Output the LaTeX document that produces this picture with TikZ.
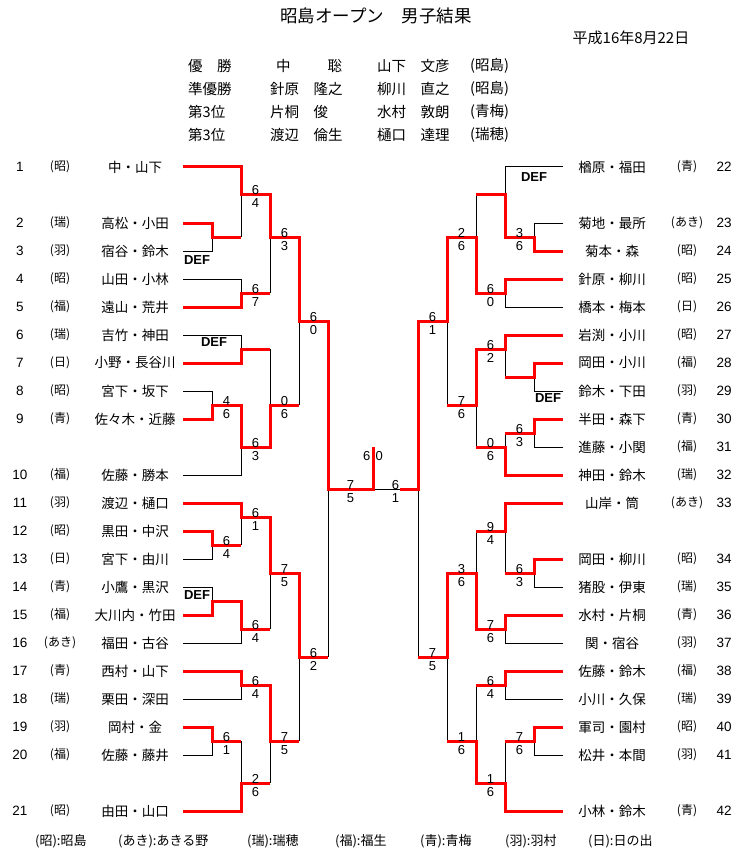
\documentclass[tikz,border=0pt]{standalone}
\usepackage{fontspec}
\setmainfont{Noto Sans CJK JP}
\newfontfamily\latinf{Liberation Sans}
\tikzset{
  blk/.style={black, line width=1pt},
  win/.style={red, line width=3pt, line join=miter},
  nametxt/.style={font=\fontsize{13.5}{13.5}\selectfont, inner sep=0pt},
  clubtxt/.style={font=\fontsize{12}{12}\selectfont, inner sep=0pt},
  numtxt/.style={font=\latinf\fontsize{13.5}{13.5}\selectfont, inner sep=0pt},
  sctop/.style={font=\latinf\fontsize{13}{13}\selectfont, inner sep=0pt, anchor=base},
  scbot/.style={font=\latinf\fontsize{13}{13}\selectfont, inner sep=0pt, anchor=north, yshift=-4.5pt},
  deftxt/.style={font=\latinf\bfseries\fontsize{13}{13}\selectfont, inner sep=0pt},
  tabtxt/.style={font=\fontsize{14.5}{14.5}\selectfont, inner sep=0pt, anchor=west},
  foottxt/.style={font=\fontsize{13}{13}\selectfont, inner sep=0pt, anchor=west},
}
\newcommand\Lpl[4]{%
  \node[numtxt] (lnum#1) at (20,#4) {#1};
  \node[clubtxt] (lclub#1) at (60,#4) {(#2)};
  \node[nametxt] (lname#1) at (135,#4) {#3};}
\newcommand\Rpl[4]{%
  \node[nametxt] (rname#1) at (612,#4) {#3};
  \node[clubtxt] (rclub#1) at (687,#4) {(#2)};
  \node[numtxt] (rnum#1) at (724,#4) {#1};}
\newcommand\Sc[5]{%
  \node[sctop] (#1t) at (#2,#3) {#4};
  \node[scbot] (#1b) at (#2,#3) {#5};}
\begin{document}
\begin{tikzpicture}[x=1pt,y=-1pt]
\fill[white] (0,0) rectangle (743,853);
\useasboundingbox (0,0) rectangle (743,853);

% header
\node[font=\fontsize{17.5}{17.5}\selectfont, inner sep=0pt] (title) at (376,16) {昭島オープン　男子結果};
\node[font=\fontsize{15}{15}\selectfont, inner sep=0pt] (date) at (631,38) {平成16年8月22日};

\node[tabtxt] (t11) at (188,66) {優　勝};
\node[tabtxt] (t12) at (276,66) {中　　\hspace{8pt}聡};
\node[tabtxt] (t13) at (377,66) {山下　文彦};
\node[tabtxt] (t14) at (470,66) {(昭島)};
\node[tabtxt] (t21) at (188,89) {準優勝};
\node[tabtxt] (t22) at (270,89) {針原　隆之};
\node[tabtxt] (t23) at (377,89) {柳川　直之};
\node[tabtxt] (t24) at (470,89) {(昭島)};
\node[tabtxt] (t31) at (188,112) {第3位};
\node[tabtxt] (t32) at (270,112) {片桐　俊};
\node[tabtxt] (t33) at (377,112) {水村　敦朗};
\node[tabtxt] (t34) at (470,112) {(青梅)};
\node[tabtxt] (t41) at (188,135) {第3位};
\node[tabtxt] (t42) at (270,135) {渡辺　倫生};
\node[tabtxt] (t43) at (377,135) {樋口　達理};
\node[tabtxt] (t44) at (470,135) {(瑞穂)};

% players left
\Lpl{1}{昭}{中・山下}{167}
\Lpl{2}{瑞}{高松・小田}{223}
\Lpl{3}{羽}{宿谷・鈴木}{251}
\Lpl{4}{昭}{山田・小林}{279}
\Lpl{5}{福}{遠山・荒井}{307}
\Lpl{6}{瑞}{吉竹・神田}{335}
\Lpl{7}{日}{小野・長谷川}{363}
\Lpl{8}{昭}{宮下・坂下}{391}
\Lpl{9}{青}{佐々木・近藤}{419}
\Lpl{10}{福}{佐藤・勝本}{475}
\Lpl{11}{羽}{渡辺・樋口}{503}
\Lpl{12}{昭}{黒田・中沢}{531}
\Lpl{13}{日}{宮下・由川}{559}
\Lpl{14}{青}{小鷹・黒沢}{587}
\Lpl{15}{福}{大川内・竹田}{615}
\Lpl{16}{あき}{福田・古谷}{643}
\Lpl{17}{青}{西村・山下}{671}
\Lpl{18}{瑞}{栗田・深田}{699}
\Lpl{19}{羽}{岡村・金}{727}
\Lpl{20}{福}{佐藤・藤井}{755}
\Lpl{21}{昭}{由田・山口}{811}

% players right
\Rpl{22}{青}{楢原・福田}{167}
\Rpl{23}{あき}{菊地・最所}{223}
\Rpl{24}{昭}{菊本・森}{251}
\Rpl{25}{昭}{針原・柳川}{279}
\Rpl{26}{日}{橋本・梅本}{307}
\Rpl{27}{昭}{岩渕・小川}{335}
\Rpl{28}{福}{岡田・小川}{363}
\Rpl{29}{羽}{鈴木・下田}{391}
\Rpl{30}{青}{半田・森下}{419}
\Rpl{31}{福}{進藤・小関}{447}
\Rpl{32}{瑞}{神田・鈴木}{475}
\Rpl{33}{あき}{山岸・筒}{503}
\Rpl{34}{昭}{岡田・柳川}{559}
\Rpl{35}{瑞}{猪股・伊東}{587}
\Rpl{36}{青}{水村・片桐}{615}
\Rpl{37}{羽}{関・宿谷}{643}
\Rpl{38}{福}{佐藤・鈴木}{671}
\Rpl{39}{瑞}{小川・久保}{699}
\Rpl{40}{昭}{軍司・園村}{727}
\Rpl{41}{羽}{松井・本間}{755}
\Rpl{42}{青}{小林・鈴木}{811}

% black (losing) lines, left
\draw[blk] (183,251)--(212,251)--(212,237);
\draw[blk] (241,194)--(241,237);
\draw[blk] (183,279)--(241,279)--(241,293);
\draw[blk] (270,237)--(270,293);
\draw[blk] (183,335)--(241,335)--(241,349);
\draw[blk] (183,391)--(212,391)--(212,405);
\draw[blk] (183,475)--(241,475)--(241,447);
\draw[blk] (270,349)--(270,405);
\draw[blk] (299,321)--(299,405);
\draw[blk] (241,517)--(241,545);
\draw[blk] (183,559)--(212,559)--(212,545);
\draw[blk] (183,587)--(212,587)--(212,601);
\draw[blk] (183,643)--(241,643)--(241,629);
\draw[blk] (270,573)--(270,629);
\draw[blk] (328,489)--(328,657);
\draw[blk] (183,699)--(241,699)--(241,685);
\draw[blk] (183,755)--(212,755)--(212,741);
\draw[blk] (241,741)--(241,783);
\draw[blk] (270,741)--(270,783);
\draw[blk] (299,657)--(299,741);
\draw[blk] (373,489)--(418,489);
% black lines, right
\draw[blk] (563,167)--(505,167)--(505,194);
\draw[blk] (563,223)--(534,223)--(534,237);
\draw[blk] (476,194)--(476,237);
\draw[blk] (563,307)--(505,307)--(505,293);
\draw[blk] (505,349)--(505,377);
\draw[blk] (563,391)--(534,391)--(534,377);
\draw[blk] (563,447)--(534,447)--(534,433);
\draw[blk] (505,433)--(505,447);
\draw[blk] (476,405)--(476,447);
\draw[blk] (447,321)--(447,405);
\draw[blk] (418,489)--(418,657);
\draw[blk] (505,531)--(505,573);
\draw[blk] (563,587)--(534,587)--(534,573);
\draw[blk] (563,643)--(505,643)--(505,629);
\draw[blk] (476,531)--(476,573);
\draw[blk] (563,699)--(505,699)--(505,685);
\draw[blk] (563,755)--(534,755)--(534,741);
\draw[blk] (505,741)--(505,783);
\draw[blk] (476,685)--(476,741);
\draw[blk] (447,657)--(447,741);

% red (winning) lines, left
\draw[win] (183,167)--(241,167)--(241,194)--(270,194)--(270,237)--(299,237)--(299,321)--(328,321)--(328,489)--(373,489)--(373,447);
\draw[win] (183,223)--(212,223)--(212,237)--(241,237);
\draw[win] (183,307)--(241,307)--(241,293)--(270,293);
\draw[win] (183,363)--(241,363)--(241,349)--(270,349);
\draw[win] (183,419)--(212,419)--(212,405)--(241,405)--(241,447)--(270,447)--(270,405)--(299,405);
\draw[win] (183,503)--(241,503)--(241,517)--(270,517)--(270,573)--(299,573)--(299,657)--(328,657);
\draw[win] (183,531)--(212,531)--(212,545)--(241,545);
\draw[win] (183,615)--(212,615)--(212,601)--(241,601)--(241,629)--(270,629);
\draw[win] (183,671)--(241,671)--(241,685)--(270,685)--(270,741)--(299,741);
\draw[win] (183,727)--(212,727)--(212,741)--(241,741);
\draw[win] (183,811)--(241,811)--(241,783)--(270,783);
% red lines, right
\draw[win] (563,279)--(505,279)--(505,293)--(476,293)--(476,237)--(447,237)--(447,321)--(418,321)--(418,489)--(400,489);
\draw[win] (563,251)--(534,251)--(534,237)--(505,237)--(505,194)--(476,194);
\draw[win] (563,335)--(505,335)--(505,349)--(476,349)--(476,405)--(447,405);
\draw[win] (563,363)--(534,363)--(534,377)--(505,377);
\draw[win] (563,419)--(534,419)--(534,433)--(505,433);
\draw[win] (563,475)--(505,475)--(505,447)--(476,447);
\draw[win] (563,503)--(505,503)--(505,531)--(476,531);
\draw[win] (563,559)--(534,559)--(534,573)--(505,573);
\draw[win] (563,615)--(505,615)--(505,629)--(476,629)--(476,573)--(447,573)--(447,657)--(418,657);
\draw[win] (563,671)--(505,671)--(505,685)--(476,685);
\draw[win] (563,727)--(534,727)--(534,741)--(505,741);
\draw[win] (563,811)--(505,811)--(505,783)--(476,783)--(476,741)--(447,741);

% DEF labels
\node[deftxt] (defA) at (197,260) {DEF};
\node[deftxt] (defB) at (214,342) {DEF};
\node[deftxt] (defC) at (197,595) {DEF};
\node[deftxt] (defD) at (534,177) {DEF};
\node[deftxt] (defE) at (548,398) {DEF};

% scores left
\Sc{sa}{255.5}{194}{6}{4}
\Sc{sb}{255.5}{293}{6}{7}
\Sc{sc}{284.5}{237}{6}{3}
\Sc{sd}{313.5}{321}{6}{0}
\Sc{se}{226.5}{405}{4}{6}
\Sc{sf}{255.5}{447}{6}{3}
\Sc{sg}{284.5}{405}{0}{6}
\Sc{sh}{350.5}{489}{7}{5}
\Sc{si}{255.5}{517}{6}{1}
\Sc{sj}{226.5}{545}{6}{4}
\Sc{sk}{255.5}{629}{6}{4}
\Sc{sl}{284.5}{573}{7}{5}
\Sc{sm}{313.5}{657}{6}{2}
\Sc{sn}{255.5}{685}{6}{4}
\Sc{so}{226.5}{741}{6}{1}
\Sc{sp}{255.5}{783}{2}{6}
\Sc{sq}{284.5}{741}{7}{5}
% scores right
\Sc{ra}{519.5}{237}{3}{6}
\Sc{rb}{461.5}{237}{2}{6}
\Sc{rc}{490.5}{293}{6}{0}
\Sc{rd}{432.5}{321}{6}{1}
\Sc{re}{490.5}{349}{6}{2}
\Sc{rf}{519.5}{433}{6}{3}
\Sc{rg}{490.5}{447}{0}{6}
\Sc{rh}{461.5}{405}{7}{6}
\Sc{ri}{395.5}{489}{6}{1}
\Sc{rj}{490.5}{531}{9}{4}
\Sc{rk}{519.5}{573}{6}{3}
\Sc{rl}{490.5}{629}{7}{6}
\Sc{rm}{461.5}{573}{3}{6}
\Sc{rn}{432.5}{657}{7}{5}
\Sc{ro}{490.5}{685}{6}{4}
\Sc{rp}{519.5}{741}{7}{6}
\Sc{rq}{490.5}{783}{1}{6}
\Sc{rr}{461.5}{741}{1}{6}
% final score
\node[font=\latinf\fontsize{13}{13}\selectfont, inner sep=0pt, anchor=east] (fin1) at (370.5,456) {6};
\node[font=\latinf\fontsize{13}{13}\selectfont, inner sep=0pt, anchor=west] (fin2) at (375.5,456) {0};

% footer legend
\node[foottxt] (f1) at (35,841) {(昭):昭島};
\node[foottxt] (f2) at (118,841) {(あき):あきる野};
\node[foottxt] (f3) at (247,841) {(瑞):瑞穂};
\node[foottxt] (f4) at (335,841) {(福):福生};
\node[foottxt] (f5) at (420,841) {(青):青梅};
\node[foottxt] (f6) at (505,841) {(羽):羽村};
\node[foottxt] (f7) at (588,841) {(日):日の出};
\end{tikzpicture}
\end{document}
